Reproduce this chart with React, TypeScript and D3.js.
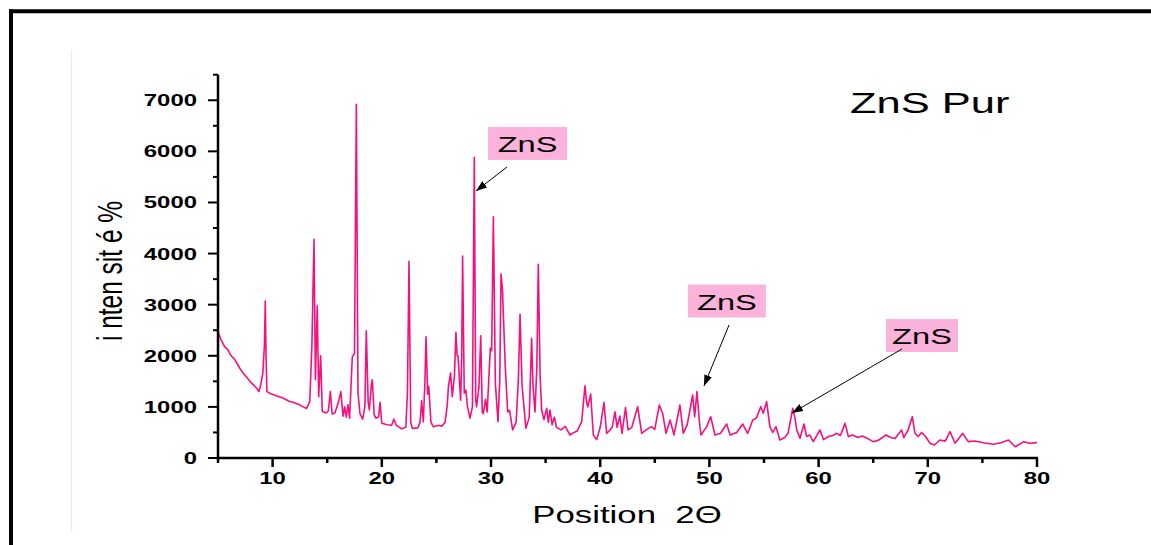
import React, { useEffect, useRef } from "react";
import * as d3 from "d3";

// XRD pattern of pure ZnS: [2theta, intensity]
const pattern: [number, number][] = [
  [5.0, 2470], [5.3, 2300], [5.6, 2180], [5.9, 2120], [6.2, 2000], [6.5, 1940],
  [6.8, 1830], [7.1, 1720], [7.4, 1640], [7.7, 1560], [8.0, 1480], [8.3, 1420],
  [8.6, 1350], [8.75, 1300], [8.9, 1420], [9.1, 1650], [9.25, 2200], [9.33, 3070],
  [9.4, 2000], [9.48, 1300], [9.8, 1260], [10.2, 1230], [10.6, 1200], [11.0, 1170],
  [11.5, 1110], [12.0, 1080], [12.5, 1040], [12.8, 1000], [13.1, 970], [13.4, 1100],
  [13.6, 2200], [13.79, 4280], [13.92, 1530], [14.09, 2980], [14.22, 1200], [14.4, 2000],
  [14.55, 910], [14.9, 880], [15.1, 920], [15.29, 1300], [15.45, 860], [15.7, 880],
  [16.0, 1070], [16.25, 1300], [16.45, 820], [16.6, 1000], [16.75, 800], [16.9, 1040],
  [17.05, 780], [17.3, 1980], [17.5, 2050], [17.67, 6920], [17.82, 1270], [18.0, 870],
  [18.25, 760], [18.45, 1000], [18.58, 2490], [18.75, 1100], [18.86, 940], [19.05, 1450],
  [19.13, 1530], [19.3, 850], [19.45, 780], [19.7, 800], [19.84, 1090], [20.0, 680],
  [20.5, 650], [20.9, 640], [21.1, 760], [21.3, 650], [21.8, 570], [22.2, 600],
  [22.35, 1300], [22.49, 3850], [22.65, 700], [22.8, 580], [23.3, 590], [23.5, 700],
  [23.65, 1120], [23.8, 710], [23.95, 1500], [24.05, 2370], [24.2, 1250], [24.3, 1400],
  [24.5, 700], [24.72, 610], [25.2, 640], [25.5, 620], [25.8, 700], [26.0, 1050],
  [26.1, 1400], [26.3, 1660], [26.45, 1200], [26.65, 1600], [26.79, 2460], [26.9, 2000],
  [26.98, 2000], [27.22, 1130], [27.32, 2000], [27.4, 3950], [27.55, 1270], [27.7, 1330],
  [27.85, 1000], [28.08, 780], [28.3, 1000], [28.47, 5885], [28.6, 1130], [28.68, 1000],
  [28.9, 1400], [29.06, 2390], [29.2, 900], [29.3, 870], [29.5, 1150], [29.65, 900],
  [29.94, 2150], [30.06, 2100], [30.22, 4720], [30.4, 1460], [30.64, 710], [30.8, 1500],
  [30.92, 3600], [31.05, 3300], [31.3, 1820], [31.53, 900], [31.7, 930], [31.98, 550],
  [32.3, 700], [32.5, 1500], [32.66, 2810], [32.85, 1400], [33.2, 580], [33.5, 800],
  [33.72, 2340], [33.85, 1400], [34.03, 900], [34.2, 1800], [34.33, 3790], [34.5, 1600],
  [34.64, 940], [34.85, 750], [35.1, 970], [35.25, 700], [35.4, 940], [35.6, 650],
  [35.8, 800], [36.0, 600], [36.41, 550], [36.8, 620], [37.23, 450], [37.6, 500],
  [37.9, 530], [38.3, 710], [38.61, 1415], [38.75, 1100], [38.86, 1000], [39.13, 1250],
  [39.37, 450], [39.68, 360], [40.0, 600], [40.35, 1090], [40.59, 480], [40.9, 550],
  [41.1, 600], [41.35, 906], [41.55, 600], [41.8, 820], [42.0, 480], [42.32, 985],
  [42.55, 550], [42.9, 600], [43.43, 1004], [43.8, 483], [44.2, 550], [44.7, 613],
  [45.0, 560], [45.41, 1037], [45.72, 874], [46.03, 483], [46.4, 744], [46.76, 450],
  [47.3, 1037], [47.61, 483], [47.97, 653], [48.47, 1233], [48.65, 809], [48.86, 1298],
  [49.07, 744], [49.23, 450], [49.75, 613], [50.12, 808], [50.51, 450], [51.0, 480],
  [51.58, 665], [51.9, 450], [52.5, 500], [53.05, 665], [53.5, 480], [53.97, 744],
  [54.3, 780], [54.7, 1004], [54.93, 874], [55.24, 1102], [55.54, 613], [55.8, 500],
  [56.1, 613], [56.45, 352], [56.9, 400], [57.2, 483], [57.63, 972], [57.81, 809],
  [58.0, 550], [58.3, 385], [58.66, 665], [58.9, 420], [59.2, 450], [59.51, 320],
  [60.13, 548], [60.45, 360], [60.9, 420], [61.3, 440], [61.66, 483], [62.0, 440],
  [62.42, 678], [62.73, 418], [63.1, 450], [63.6, 400], [64.0, 430], [64.5, 380],
  [65.0, 320], [65.5, 350], [66.17, 450], [66.6, 400], [67.0, 380], [67.6, 548],
  [67.8, 400], [68.2, 548], [68.58, 808], [68.83, 483], [69.1, 420], [69.44, 496],
  [69.8, 420], [70.2, 288], [70.6, 254], [71.1, 352], [71.6, 330], [72.03, 515],
  [72.5, 288], [73.2, 483], [73.7, 320], [74.3, 334], [75.1, 300], [76.0, 268],
  [76.7, 300], [77.4, 352], [78.0, 221], [78.8, 320], [79.3, 290], [80.0, 300]
];

const xMajor = [10, 20, 30, 40, 50, 60, 70, 80];
const xMinor = [5, 15, 25, 35, 45, 55, 65, 75];
const yMajor = [0, 1000, 2000, 3000, 4000, 5000, 6000, 7000];
const yMinor = [500, 1500, 2500, 3500, 4500, 5500, 6500, 7500];

// peak labels: box centre, arrow tail, arrow tip (data units)
const peakText = ["ZnS", "ZnS", "ZnS"];
const labelAt: [number, number][] = [[33.35, 6155], [51.6, 3072], [69.47, 2397]];
const arrowFrom: [number, number][] = [[31.47, 5695], [51.8, 2603], [67.64, 2133]];
const arrowTo: [number, number][] = [[28.63, 5225], [49.5, 1409], [57.56, 880]];

const W = 1151;
const H = 545;
const SX = 1.45; // the original picture is stretched sideways
const lineColor = "#f5107f";
const boxColor = "#fbb3dc";
const boxW = [79, 78, 72];

const App = () => {
  const ref = useRef<SVGSVGElement>(null);

  useEffect(() => {
    const svg = d3.select(ref.current);
    svg.selectAll("*").remove();

    const x = d3.scaleLinear().domain([5, 80]).range([218, 1037]);
    const y = d3.scaleLinear().domain([0, 7500]).range([458, 74.7]);

    const text = (g, px, py, str, size, weight, anchor, extra = "") =>
      g
        .append("text")
        .attr("transform", `translate(${px},${py}) scale(${SX},1) ${extra}`)
        .attr("text-anchor", anchor)
        .style("font-family", "Arial, 'Liberation Sans', sans-serif")
        .style("font-size", size + "px")
        .style("font-weight", weight)
        .attr("fill", "#000")
        .text(str);

    // frame
    svg.append("line")
      .attr("x1", 9).attr("x2", W).attr("y1", 11.3).attr("y2", 11.3)
      .attr("stroke", "#000").attr("stroke-width", 4);
    svg.append("line")
      .attr("x1", 11).attr("x2", 11).attr("y1", 9.3).attr("y2", H)
      .attr("stroke", "#000").attr("stroke-width", 4);
    svg.append("line")
      .attr("x1", 71.5).attr("x2", 71.5).attr("y1", 50).attr("y2", 532)
      .attr("stroke", "#f6e4ec").attr("stroke-width", 1);

    // pattern
    const line = d3.line<[number, number]>()
      .x(d => x(d[0]))
      .y(d => y(d[1]));
    svg.append("path")
      .datum(pattern)
      .attr("d", line)
      .attr("fill", "none")
      .attr("stroke", lineColor)
      .attr("stroke-width", 1.6)
      .attr("stroke-linejoin", "round");

    // axes
    const ax = svg.append("g").attr("stroke", "#000");
    ax.append("line")
      .attr("x1", x(5)).attr("x2", x(5)).attr("y1", y(7500)).attr("y2", y(0) + 1)
      .attr("stroke-width", 2.5);
    ax.append("line")
      .attr("x1", x(5) - 1).attr("x2", x(80) + 1).attr("y1", y(0)).attr("y2", y(0))
      .attr("stroke-width", 2.5);

    yMajor.forEach(v => {
      ax.append("line").attr("x1", x(5) - 10).attr("x2", x(5))
        .attr("y1", y(v)).attr("y2", y(v)).attr("stroke-width", 2);
      text(svg, x(5) - 21, y(v) + 6, d3.format("d")(v), 16.5, "bold", "end");
    });
    yMinor.forEach(v => {
      ax.append("line").attr("x1", x(5) - 5).attr("x2", x(5))
        .attr("y1", y(v)).attr("y2", y(v)).attr("stroke-width", 2);
    });
    xMajor.forEach(v => {
      ax.append("line").attr("x1", x(v)).attr("x2", x(v))
        .attr("y1", y(0)).attr("y2", y(0) + 9).attr("stroke-width", 2.5);
      text(svg, x(v), y(0) + 26, String(v), 16.5, "bold", "middle");
    });
    xMinor.forEach(v => {
      ax.append("line").attr("x1", x(v)).attr("x2", x(v))
        .attr("y1", y(0)).attr("y2", y(0) + 5).attr("stroke-width", 2.5);
    });

    // axis titles
    text(svg, 627, 523, "Position  2\u0398", 24, "normal", "middle").style("white-space", "pre");
    text(svg, 122, 271, "i nten sit \u00e9 %", 24.5, "normal", "middle", "rotate(-90)");

    // sample name
    text(svg, 850, 113, "ZnS Pur", 30, "normal", "start");

    // peak annotations
    svg.append("defs").append("marker")
      .attr("id", "arrowHead")
      .attr("markerUnits", "userSpaceOnUse")
      .attr("markerWidth", 11).attr("markerHeight", 8)
      .attr("refX", 11).attr("refY", 4)
      .attr("orient", "auto")
      .append("path").attr("d", "M0,0 L11,4 L0,8 Z").attr("fill", "#000");

    peakText.forEach((t, i) => {
      const [cx, cy] = [x(labelAt[i][0]), y(labelAt[i][1])];
      svg.append("rect")
        .attr("x", cx - boxW[i] / 2).attr("y", cy - 16.5)
        .attr("width", boxW[i]).attr("height", 33)
        .attr("fill", boxColor);
      text(svg, cx, cy + 8.5, t, 22.5, "normal", "middle");
      svg.append("line")
        .attr("x1", x(arrowFrom[i][0])).attr("y1", y(arrowFrom[i][1]))
        .attr("x2", x(arrowTo[i][0])).attr("y2", y(arrowTo[i][1]))
        .attr("stroke", "#000").attr("stroke-width", 1)
        .attr("marker-end", "url(#arrowHead)");
    });
  }, []);

  return (
    <svg
      ref={ref}
      width={W}
      height={H}
      style={{ position: "absolute", left: 0, top: 0, background: "#fff" }}
    />
  );
};

export default App;
